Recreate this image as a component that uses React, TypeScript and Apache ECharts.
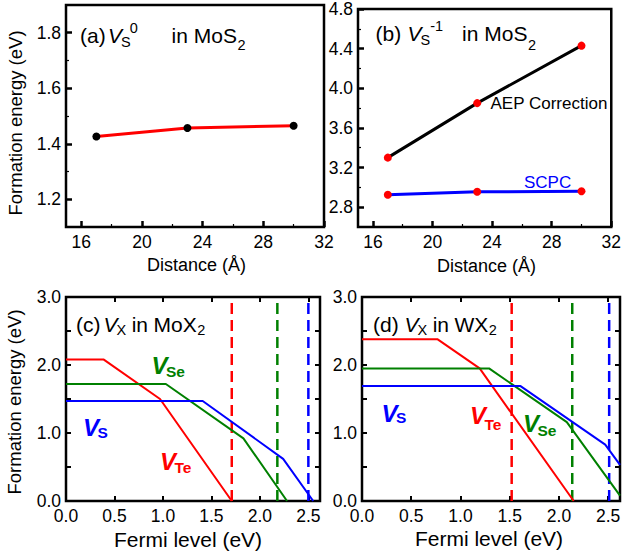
import React, { useEffect, useRef } from 'react';
import * as echarts from 'echarts';

// ---------- data ----------
const distances = [17, 23, 30];
const vs0Energy = [1.426, 1.457, 1.465];
const aepEnergy = [3.3, 3.85, 4.43];
const scpcEnergy = [2.925, 2.955, 2.96];

const distanceTicks = [16, 20, 24, 28, 32];
const distanceMinorTicks = [18, 22, 26, 30];
const vs0Ticks = [1.2, 1.4, 1.6, 1.8];
const vs0MinorTicks = [1.3, 1.5, 1.7];
const vsm1Ticks = [2.8, 3.2, 3.6, 4.0, 4.4, 4.8];
const vsm1MinorTicks = [3.0, 3.4, 3.8, 4.2, 4.6];
const fermiTicks = [0, 0.5, 1, 1.5, 2, 2.5];
const energyTicks = [0, 0.5, 1, 1.5, 2, 2.5, 3];
const energyLabels = [0, 1, 2, 3];

// (c) MoX2
const moFermiVTe = [0, 0.39, 0.97, 1.71];
const moEnergyVTe = [2.08, 2.08, 1.5, 0];
const moFermiVSe = [0, 1.03, 1.83, 2.28];
const moEnergyVSe = [1.72, 1.72, 0.92, 0];
const moFermiVS = [0, 1.41, 2.24, 2.55];
const moEnergyVS = [1.47, 1.47, 0.62, 0];
const moGaps = [1.71, 2.18, 2.5]; // Te, Se, S

// (d) WX2
const wFermiVTe = [0, 0.765, 1.195, 2.15];
const wEnergyVTe = [2.38, 2.38, 1.95, 0];
const wFermiVSe = [0, 1.29, 2.08, 2.62];
const wEnergyVSe = [1.95, 1.95, 1.16, 0.08];
const wFermiVS = [0, 1.61, 2.47, 2.62];
const wEnergyVS = [1.69, 1.69, 0.83, 0.53];
const wGaps = [1.52, 2.135, 2.51];

const RED = '#ff0000';
const GREEN = '#008000';
const BLUE = '#0000ff';
const FF = '"Liberation Sans", Arial, Helvetica, sans-serif';

const pair = (xs: number[], ys: number[]) => xs.map((x, i) => [x, ys[i]]);

type TxtOpt = { italic?: boolean; bold?: boolean; color?: string; align?: string; rotate?: number };

const fontOf = (size: number, o: TxtOpt) =>
  `${o.italic ? 'italic ' : ''}${o.bold ? 'bold ' : ''}${size}px ${FF}`;

function txt(text: string, x: number, y: number, size: number, o: TxtOpt = {}) {
  const align = o.align || 'left';
  return {
    type: 'text',
    x,
    y,
    rotation: o.rotate || 0,
    silent: true,
    z: 100,
    style: {
      text,
      fill: o.color || '#000',
      font: fontOf(size, o),
      textAlign: align,
      textVerticalAlign: 'middle',
      align,
      verticalAlign: 'middle',
    },
  };
}

let measureCtx: CanvasRenderingContext2D | null = null;
function measure(text: string, size: number, o: TxtOpt) {
  if (!measureCtx) measureCtx = document.createElement('canvas').getContext('2d');
  if (!measureCtx) return text.length * size * 0.55;
  measureCtx.font = fontOf(size, o);
  return measureCtx.measureText(text).width;
}

// segments: x given => placed there; otherwise follows previous segment (+dx)
type Seg = { t: string; x?: number; dx?: number; y: number; size: number } & TxtOpt;
function flow(segs: Seg[]) {
  const out: any[] = [];
  let cur = 0;
  for (const s of segs) {
    const x = s.x !== undefined ? s.x : cur + (s.dx || 0);
    out.push(txt(s.t, x, s.y, s.size, s));
    cur = x + measure(s.t, s.size, s);
  }
  return out;
}

const labelStyle = { color: '#000', fontFamily: FF, fontSize: 17.5 };

function mainAxis(
  grid: number,
  position: string,
  min: number,
  max: number,
  ticks: number[],
  labels: number[] | null,
  tickLen: number,
  tickW: number,
  digits: number,
  margin: number
) {
  return {
    type: 'value',
    gridIndex: grid,
    position,
    min,
    max,
    axisLine: { show: false, onZero: false },
    splitLine: { show: false },
    axisTick: {
      show: true,
      inside: true,
      length: tickLen,
      customValues: ticks,
      lineStyle: { color: '#000', width: tickW },
    },
    axisLabel: labels
      ? {
          show: true,
          customValues: labels,
          margin,
          ...labelStyle,
          formatter: (v: number) => v.toFixed(digits),
        }
      : { show: false },
  };
}

export default function App() {
  const ref = useRef<HTMLDivElement>(null);
  useEffect(() => {
    document.body.style.margin = '0';
    if (!ref.current) return;
    const chart = echarts.init(ref.current, undefined, { renderer: 'svg' });

    const gridBase = { show: true, borderColor: '#000', borderWidth: 2.5, backgroundColor: 'transparent' };

    const xAxis = [
      mainAxis(0, 'bottom', 15, 32, distanceTicks, distanceTicks, 6, 2.5, 0, 6),
      mainAxis(0, 'bottom', 15, 32, distanceMinorTicks, null, 3, 1.2, 0, 0),
      mainAxis(1, 'bottom', 15, 32, distanceTicks, distanceTicks, 6, 2.5, 0, 6),
      mainAxis(1, 'bottom', 15, 32, distanceMinorTicks, null, 3, 1.2, 0, 0),
      mainAxis(2, 'bottom', 0, 2.62, fermiTicks, fermiTicks, 5, 2, 1, 6),
      mainAxis(2, 'top', 0, 2.62, fermiTicks, null, 5, 2, 1, 0),
      mainAxis(3, 'bottom', 0, 2.62, fermiTicks, fermiTicks, 5, 2, 1, 6),
      mainAxis(3, 'top', 0, 2.62, fermiTicks, null, 5, 2, 1, 0),
    ];
    const yAxis = [
      mainAxis(0, 'left', 1.1, 1.9, vs0Ticks, vs0Ticks, 6, 2.5, 1, 5),
      mainAxis(0, 'left', 1.1, 1.9, vs0MinorTicks, null, 3, 1.2, 1, 0),
      mainAxis(1, 'left', 2.6, 4.8, vsm1Ticks, vsm1Ticks, 6, 2.5, 1, 5),
      mainAxis(1, 'left', 2.6, 4.8, vsm1MinorTicks, null, 3, 1.2, 1, 0),
      mainAxis(2, 'left', 0, 3, energyTicks, energyLabels, 5, 2, 1, 5),
      mainAxis(2, 'right', 0, 3, energyTicks, null, 5, 2, 1, 0),
      mainAxis(3, 'left', 0, 3, energyTicks, energyLabels, 5, 2, 1, 5),
      mainAxis(3, 'right', 0, 3, energyTicks, null, 5, 2, 1, 0),
    ];

    const solid = (xi: number, data: number[][], color: string, width: number) => ({
      type: 'line',
      xAxisIndex: xi,
      yAxisIndex: xi,
      data,
      symbol: 'none',
      lineStyle: { color, width },
      silent: true,
      z: 3,
    });
    const dashed = (xi: number, x: number, color: string) => ({
      type: 'line',
      xAxisIndex: xi,
      yAxisIndex: xi,
      data: [
        [x, 0],
        [x, 3],
      ],
      symbol: 'none',
      lineStyle: { color, width: 2.5, type: [11, 6] },
      silent: true,
      z: 2,
    });
    const marked = (xi: number, ys: number[], lineColor: string, dotColor: string) => ({
      type: 'line',
      xAxisIndex: xi,
      yAxisIndex: xi,
      data: pair(distances, ys),
      symbol: 'circle',
      symbolSize: 8,
      showSymbol: true,
      lineStyle: { color: lineColor, width: 3 },
      itemStyle: { color: dotColor, borderWidth: 0 },
      silent: true,
    });

    const gapColors = [RED, GREEN, BLUE];

    const series = [
      marked(0, vs0Energy, RED, '#000'),
      marked(2, aepEnergy, '#000', RED),
      marked(2, scpcEnergy, BLUE, RED),
      ...moGaps.map((g, i) => dashed(4, g, gapColors[i])),
      solid(4, pair(moFermiVTe, moEnergyVTe), RED, 2),
      solid(4, pair(moFermiVSe, moEnergyVSe), GREEN, 2),
      solid(4, pair(moFermiVS, moEnergyVS), BLUE, 2),
      ...wGaps.map((g, i) => dashed(6, g, gapColors[i])),
      solid(6, pair(wFermiVTe, wEnergyVTe), RED, 2),
      solid(6, pair(wFermiVSe, wEnergyVSe), GREEN, 2),
      solid(6, pair(wFermiVS, wEnergyVS), BLUE, 2),
    ];

    const T = 21; // title size
    const S = 14.5; // sub/sup size
    const graphic = [
      // axis names
      txt('Formation energy (eV)', 15, 123, 18.5, { align: 'center', rotate: Math.PI / 2 }),
      txt('Formation energy (eV)', 14, 402, 18.5, { align: 'center', rotate: Math.PI / 2 }),
      txt('Distance (Å)', 196.5, 265, 18, { align: 'center' }),
      txt('Distance (Å)', 486.5, 266, 18, { align: 'center' }),
      txt('Fermi level (eV)', 188, 539, 21, { align: 'center' }),
      txt('Fermi level (eV)', 489, 538, 21, { align: 'center' }),
      // annotations (b)
      txt('AEP Correction', 490.5, 103, 17),
      txt('SCPC', 524, 182, 17, { color: BLUE }),
      // title (a)
      ...flow([
        { t: '(a)', x: 80, y: 35, size: T },
        { t: 'V', x: 108, y: 35, size: T, italic: true },
        { t: 'S', y: 41.5, size: S, dx: -1 },
        { t: '0', y: 27.5, size: S, dx: -1 },
        { t: 'in', x: 171.5, y: 35, size: T },
        { t: 'MoS', dx: 6, y: 35, size: T },
        { t: '2', y: 45, size: S, dx: 0.5 },
      ]),
      // title (b)
      ...flow([
        { t: '(b)', x: 375.5, y: 33.5, size: T },
        { t: 'V', x: 407.5, y: 33.5, size: T, italic: true },
        { t: 'S', y: 39.5, size: S, dx: -1 },
        { t: '-1', y: 25.5, size: S, dx: 0 },
        { t: 'in', x: 462, y: 33.5, size: T },
        { t: 'MoS', dx: 6, y: 33.5, size: T },
        { t: '2', y: 45, size: S, dx: 0.5 },
      ]),
      // title (c)
      ...flow([
        { t: '(c)', x: 76, y: 324.5, size: T },
        { t: 'V', dx: 3, y: 324.5, size: T, italic: true },
        { t: 'X', y: 330, size: S, dx: -1 },
        { t: 'in', dx: 5.5, y: 324.5, size: T },
        { t: 'MoX', dx: 5.5, y: 324.5, size: T },
        { t: '2', y: 330, size: S, dx: 0.5 },
      ]),
      // title (d)
      ...flow([
        { t: '(d)', x: 373, y: 324, size: T },
        { t: 'V', x: 404.5, y: 324, size: T, italic: true },
        { t: 'X', y: 329.5, size: S, dx: -1 },
        { t: 'in', dx: 5.5, y: 324, size: T },
        { t: 'WX', dx: 5.5, y: 324, size: T },
        { t: '2', y: 330, size: S, dx: 0.5 },
      ]),
      // species labels (c)
      ...flow([
        { t: 'V', x: 151.5, y: 365.5, size: 24, italic: true, bold: true, color: GREEN },
        { t: 'Se', y: 371.5, size: 15.5, bold: true, color: GREEN, dx: -1.5 },
      ]),
      ...flow([
        { t: 'V', x: 83, y: 427, size: 24, italic: true, bold: true, color: BLUE },
        { t: 'S', y: 432.5, size: 15.5, bold: true, color: BLUE, dx: -1.5 },
      ]),
      ...flow([
        { t: 'V', x: 160, y: 461, size: 24, italic: true, bold: true, color: RED },
        { t: 'Te', y: 467, size: 15.5, bold: true, color: RED, dx: -1.5 },
      ]),
      // species labels (d)
      ...flow([
        { t: 'V', x: 381.5, y: 413, size: 24, italic: true, bold: true, color: BLUE },
        { t: 'S', y: 417, size: 15.5, bold: true, color: BLUE, dx: -1.5 },
      ]),
      ...flow([
        { t: 'V', x: 470, y: 415.5, size: 24, italic: true, bold: true, color: RED },
        { t: 'Te', y: 424, size: 15.5, bold: true, color: RED, dx: -1.5 },
      ]),
      ...flow([
        { t: 'V', x: 523, y: 423, size: 24, italic: true, bold: true, color: GREEN },
        { t: 'Se', y: 430.5, size: 15.5, bold: true, color: GREEN, dx: -1.5 },
      ]),
    ];

    chart.setOption({
      animation: false,
      backgroundColor: '#fff',
      grid: [
        { ...gridBase, left: 66, top: 5, width: 258, height: 222 },
        { ...gridBase, left: 358, top: 5, width: 257, height: 222 },
        { ...gridBase, left: 66, top: 297, width: 254, height: 204 },
        { ...gridBase, left: 362, top: 297, width: 258, height: 204 },
      ],
      xAxis,
      yAxis,
      series,
      graphic,
    } as any);

    return () => chart.dispose();
  }, []);

  return (
    <div
      ref={ref}
      style={{ position: 'absolute', left: 0, top: 0, width: 624, height: 559 }}
    />
  );
}
